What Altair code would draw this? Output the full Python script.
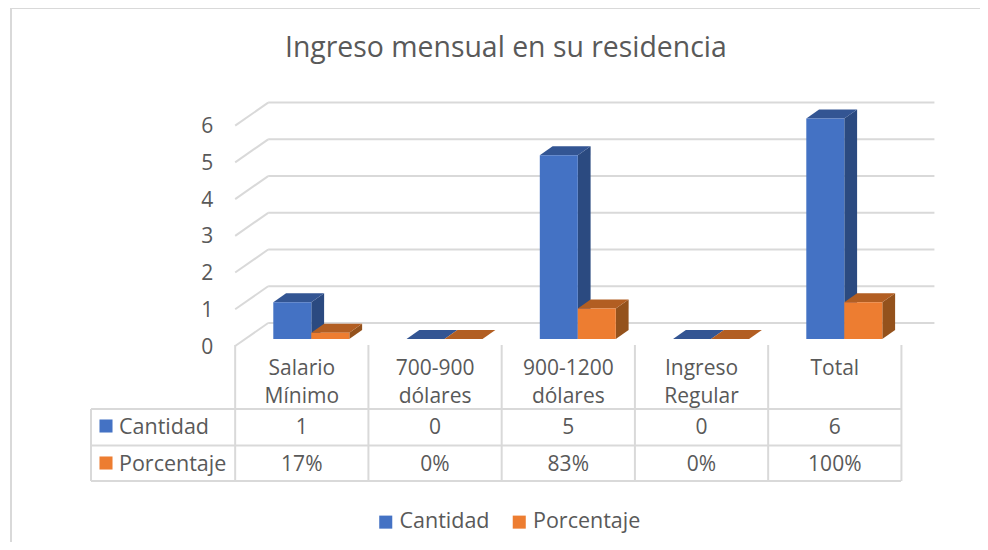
import altair as alt
import pandas as pd

TITLE = "Ingreso mensual en su residencia"
LINE1 = ["Salario", "700-900", "900-1200", "Ingreso", "Total"]
LINE2 = ["Mínimo", "dólares", "dólares", "Regular", ""]
CANTIDAD = [1, 0, 5, 0, 6]
PORCENTAJE = [17, 0, 83, 0, 100]
TICKS = [0, 1, 2, 3, 4, 5, 6]
SERIES = ["Cantidad", "Porcentaje"]

FONT = "Open Sans"
TXT = "#595959"
GRID = "#d9d9d9"
BLUE, BLUE_SIDE, BLUE_TOP = "#4472C4", "#2B4A80", "#335593"
ORANGE, ORANGE_SIDE, ORANGE_TOP = "#ED7D31", "#94521C", "#B25E22"

W, H = 972, 534
PX_X, PX_Y = 133.25, 36.73
x_scale = alt.Scale(domain=[-293.8 / PX_X, (W - 293.8) / PX_X], range=[0, W], nice=False, zero=False)
y_scale = alt.Scale(domain=[-(H - 331) / PX_Y, 331 / PX_Y], range=[H, 0], nice=False, zero=False)
X = lambda f: alt.X(f, type="quantitative", scale=x_scale, axis=None, title=None)
Y = lambda f: alt.Y(f, type="quantitative", scale=y_scale, axis=None, title=None)

BAR_W = 38 / PX_X
BAR_DX, BAR_DY = 12.8 / PX_X, 9 / PX_Y
WALL_DX, WALL_DY = 33 / PX_X, 23 / PX_Y
FLOOR = -7 / PX_Y
START = -28.5 / PX_X
n = len(LINE1)
LEFT, RIGHT = -0.5, n - 0.5


def faces(values, offset, front, side, top, name):
    front_rows, side_rows, top_rows = [], [], []
    for i, v in enumerate(values):
        x0 = i + START + offset * BAR_W
        x1 = x0 + BAR_W
        front_rows.append(dict(x=x0, x2=x1, y=0, y2=v, s=name))
        side_rows += [dict(c=i, x=x1, y=v, y2=0), dict(c=i, x=x1 + BAR_DX, y=v + BAR_DY, y2=BAR_DY)]
        top_rows += [dict(c=i, x=x0, x2=x1, y=v), dict(c=i, x=x0 + BAR_DX, x2=x1 + BAR_DX, y=v + BAR_DY)]
    return [
        alt.Chart(pd.DataFrame(side_rows)).mark_area(color=side, opacity=1).encode(
            x=X("x"), y=Y("y"), y2=alt.Y2("y2"), detail="c:N"),
        alt.Chart(pd.DataFrame(top_rows)).mark_area(color=top, opacity=1, orient="horizontal").encode(
            y=Y("y"), x=X("x"), x2=alt.X2("x2"), detail="c:N"),
        alt.Chart(pd.DataFrame(front_rows)).mark_rect().encode(
            x=X("x"), x2=alt.X2("x2"), y=Y("y"), y2=alt.Y2("y2"),
            color=alt.Color("s:N", scale=alt.Scale(domain=SERIES, range=[BLUE, ORANGE]), title=None,
                            legend=alt.Legend(orient="none", legendX=367, legendY=503, direction="horizontal",
                                              symbolType="square", symbolSize=170, symbolStrokeWidth=0,
                                              labelFont=FONT, labelFontSize=21.5, labelColor=TXT,
                                              labelOffset=3, columnPadding=18.5, padding=0))),
    ]


# walls and gridlines
back = pd.DataFrame({"y": [t + FLOOR + WALL_DY for t in TICKS],
                     "x": [LEFT + WALL_DX] * len(TICKS), "x2": [RIGHT + WALL_DX] * len(TICKS)})
grid_back = alt.Chart(back).mark_rule(color=GRID, strokeWidth=2).encode(x=X("x"), x2=alt.X2("x2"), y=Y("y"))
diag = pd.DataFrame([r for t in TICKS for r in (
    dict(t=t, x=LEFT, y=t + FLOOR), dict(t=t, x=LEFT + WALL_DX, y=t + FLOOR + WALL_DY))])
grid_diag = alt.Chart(diag).mark_line(color=GRID, strokeWidth=2).encode(x=X("x"), y=Y("y"), detail="t:N")

tick_text = alt.Chart(pd.DataFrame({"x": [LEFT] * len(TICKS), "y": [t + FLOOR for t in TICKS], "t": TICKS})).mark_text(
    align="right", baseline="middle", dx=-22, dy=1.5, font=FONT, fontSize=21, color=TXT).encode(x=X("x"), y=Y("y"), text="t:N")

# frame
frame_left = alt.Chart(pd.DataFrame({"a": [0]})).mark_rule(color=GRID, strokeWidth=2).encode(
    x=alt.value(3), y=alt.value(0), y2=alt.value(H))
frame_top = alt.Chart(pd.DataFrame({"a": [0]})).mark_rule(color=GRID, strokeWidth=2).encode(
    y=alt.value(0), x=alt.value(3), x2=alt.value(W))

# data table
vlines = alt.Chart(pd.DataFrame({"x": [LEFT + i for i in range(n + 1)]})).mark_rule(color=GRID, strokeWidth=2).encode(
    x=X("x"), y=alt.value(337), y2=alt.value(473))
hlines = alt.Chart(pd.DataFrame({"row": [401, 437.5, 473]})).mark_rule(color=GRID, strokeWidth=2).encode(
    y=alt.Y("row:Q", scale=None), x=alt.value(83), x2=alt.value(893))
vleft = alt.Chart(pd.DataFrame({"a": [0]})).mark_rule(color=GRID, strokeWidth=2).encode(
    x=alt.value(83), y=alt.value(401), y2=alt.value(473))


def row_text(labels, ypos):
    df = pd.DataFrame({"x": list(range(n)), "t": labels})
    return alt.Chart(df).mark_text(align="center", baseline="middle", font=FONT, fontSize=21, color=TXT).encode(
        x=X("x"), y=alt.value(ypos), text="t:N")


pct_labels = [f"{p}%" for p in PORCENTAJE]
table_text = [row_text(LINE1, 361), row_text(LINE2, 389), row_text([str(c) for c in CANTIDAD], 420),
              row_text(pct_labels, 457)]

head_df = pd.DataFrame({"s": SERIES, "ypos": [418, 455], "ytext": [420, 457]})
head_sw = alt.Chart(head_df).mark_square(size=170, opacity=1).encode(
    x=alt.value(98), y=alt.Y("ypos:Q", scale=None),
    color=alt.Color("s:N", scale=alt.Scale(domain=SERIES, range=[BLUE, ORANGE]), legend=None))
head_tx = alt.Chart(head_df).mark_text(align="left", baseline="middle", font=FONT, fontSize=21.5, color=TXT).encode(
    x=alt.value(111), y=alt.Y("ytext:Q", scale=None), text="s:N")

blue = faces([float(c) for c in CANTIDAD], 0, BLUE, BLUE_SIDE, BLUE_TOP, SERIES[0])
orange = faces([p / 100 for p in PORCENTAJE], 1, ORANGE, ORANGE_SIDE, ORANGE_TOP, SERIES[1])

chart = alt.layer(
    frame_left, frame_top, grid_back, grid_diag, tick_text, vlines, hlines, vleft,
    *blue, *orange, *table_text, head_sw, head_tx,
).properties(
    width=W, height=H, padding=0, autosize=alt.AutoSizeParams(type="none"),
    title=alt.TitleParams(TITLE, font=FONT, fontSize=28.4, fontWeight="normal", color=TXT, anchor="start",
                          frame="group", dx=277, dy=56, offset=0),
).configure_view(stroke=None)

chart.save("out.html", embed_options={"renderer": "svg", "actions": False})
